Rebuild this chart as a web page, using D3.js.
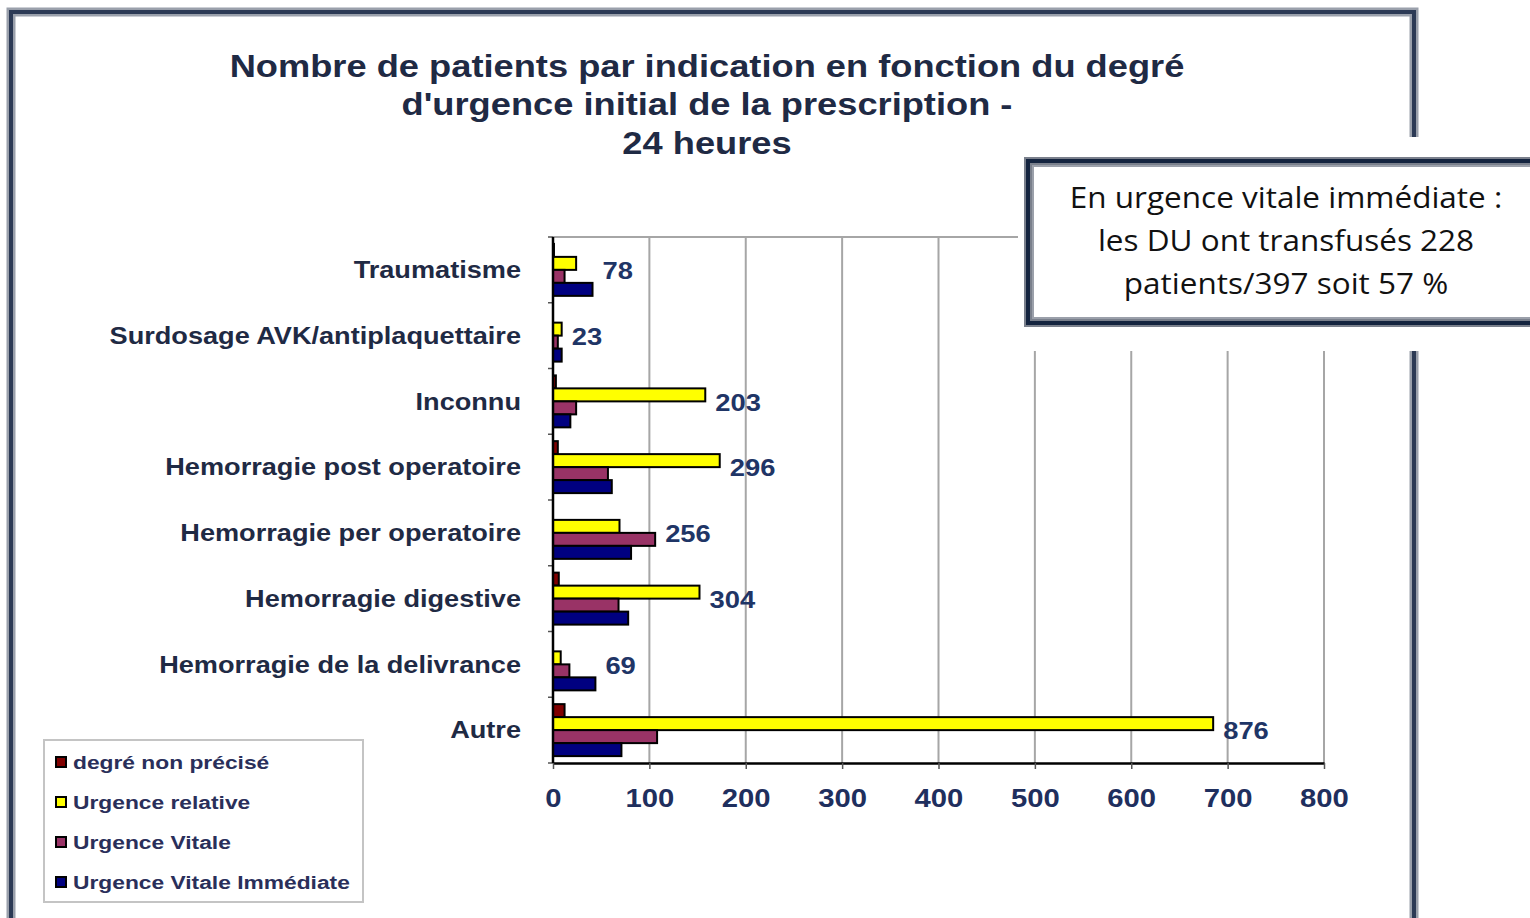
<!DOCTYPE html>
<html><head><meta charset="utf-8">
<script src="https://cdn.jsdelivr.net/npm/d3@7/dist/d3.min.js"></script>
<style>html,body{margin:0;padding:0;background:#fff;overflow:hidden}</style>
</head><body>
<svg id="c" width="1530" height="918"></svg>
<script>
const categories = ["Traumatisme","Surdosage AVK/antiplaquettaire","Inconnu","Hemorragie post operatoire","Hemorragie per operatoire","Hemorragie digestive","Hemorragie de la delivrance","Autre"];
const seriesNames = ["degré non précisé","Urgence relative","Urgence Vitale","Urgence Vitale Immédiate"];
const seriesColors = ["#800000","#ffff00","#993366","#000080"];
const nonPrecise = [1,0,3,5,0,6,0,12];
const relative   = [24,9,158,173,69,152,8,685];
const vitale     = [12,5,24,57,106,68,17,108];
const immediate  = [41,9,18,61,81,78,44,71];
const totals     = [78,23,203,296,256,304,69,876];
const xTicks     = [0,100,200,300,400,500,600,700,800];
const titleLines = ["Nombre de patients par indication en fonction du degré","d'urgence initial de la prescription -","24 heures"];
const noteLines  = ["En urgence vitale immédiate :","les DU ont transfusés 228","patients/397 soit 57 %"];

const FONT = "Liberation Sans, Arial, sans-serif";
const svg = d3.select("#c");
const seriesVals = [nonPrecise, relative, vitale, immediate];

// outer frame
svg.append("rect").attr("x",11).attr("y",12).attr("width",1403).attr("height",930)
  .attr("fill","none").attr("stroke","#9aa0ab").attr("stroke-width",9);
svg.append("rect").attr("x",11).attr("y",12).attr("width",1403).attr("height",930)
  .attr("fill","none").attr("stroke","#2c3a55").attr("stroke-width",4);

// title
const title = svg.append("text").attr("text-anchor","middle")
  .attr("transform","translate(707,0) scale(1.17,1)")
  .attr("font-family",FONT).attr("font-weight","bold")
  .attr("font-size",31).attr("fill","#1f2a44");
titleLines.forEach((t,i)=> title.append("tspan").attr("x",0).attr("y",77+i*38.5).text(t));

const m = {left:553, right:1324, top:237, bottom:763};
const x = d3.scaleLinear().domain([0,800]).range([m.left,m.right]);
const y0 = d3.scaleBand().domain(categories).range([m.top,m.bottom]).padding(0);
const y1 = d3.scaleBand().domain(d3.range(4)).range([0,y0.bandwidth()]).paddingInner(0).paddingOuter(0.53);

// grid
const g = svg.append("g");
g.selectAll("line.grid").data(xTicks.slice(1)).join("line")
  .attr("x1",d=>x(d)).attr("x2",d=>x(d)).attr("y1",m.top).attr("y2",m.bottom)
  .attr("stroke","#a6a6a6").attr("stroke-width",2);
g.append("line").attr("x1",m.left).attr("x2",m.right).attr("y1",m.top).attr("y2",m.top)
  .attr("stroke","#a6a6a6").attr("stroke-width",2);

// x axis
const xAxis = d3.axisBottom(x).tickValues(xTicks).tickSize(6).tickSizeOuter(0).tickPadding(0);
const xa = svg.append("g").attr("transform",`translate(0,${m.bottom})`).call(xAxis);
xa.select(".domain").attr("stroke","#000").attr("stroke-width",2.5);
xa.selectAll(".tick line").attr("stroke","#555").attr("stroke-width",1.5);
xa.selectAll(".tick text").attr("font-family",FONT)
  .attr("font-weight","bold").attr("font-size",25).attr("fill","#1f2f5e")
  .attr("y",0).attr("dy",0).attr("transform","translate(0,44) scale(1.17,1)");

// y axis ticks + labels
const yTickVals = d3.range(categories.length+1).map(i=>m.top+i*y0.step());
svg.append("g").selectAll("line").data(yTickVals).join("line")
  .attr("x1",m.left-5).attr("x2",m.left).attr("y1",d=>d).attr("y2",d=>d)
  .attr("stroke","#555").attr("stroke-width",1.5);
svg.append("g").selectAll("text").data(categories).join("text")
  .attr("text-anchor","end").attr("dy","0.36em")
  .attr("transform",d=>`translate(521,${y0(d)+y0.bandwidth()/2}) scale(1.18,1)`)
  .attr("font-family",FONT).attr("font-weight","bold").attr("font-size",23).attr("fill","#1f2a44")
  .text(d=>d);

// bars
const bars = svg.append("g");
categories.forEach((c,ci)=>{
  seriesVals.forEach((vals,si)=>{
    const v = vals[ci];
    if (v<=0) return;
    bars.append("rect")
      .attr("x",x(0)).attr("y",y0(c)+y1(si))
      .attr("width",x(v)-x(0)).attr("height",y1.bandwidth())
      .attr("fill",seriesColors[si]).attr("stroke","#000").attr("stroke-width",2);
  });
});
svg.append("line").attr("x1",m.left).attr("x2",m.left).attr("y1",m.top).attr("y2",m.bottom)
  .attr("stroke","#000").attr("stroke-width",2.5);

// value labels (right of longest bar, centred on category)
categories.forEach((c,ci)=>{
  const mx = d3.max(seriesVals, s=>s[ci]);
  svg.append("text")
    .attr("transform",`translate(${x(mx)+10},${y0(c)+y0.bandwidth()/2+1}) scale(1.19,1)`)
    .attr("dy","0.36em").attr("font-family",FONT)
    .attr("font-weight","bold").attr("font-size",23).attr("fill","#1f3566").text(totals[ci]);
});

// legend
const lg = svg.append("g");
lg.append("rect").attr("x",44).attr("y",740).attr("width",319).attr("height",162)
  .attr("fill","#fff").attr("stroke","#c4c4c4").attr("stroke-width",2);
seriesNames.forEach((n,i)=>{
  const yy = 762 + i*40;
  lg.append("rect").attr("x",56).attr("y",yy-5).attr("width",10).attr("height",10)
    .attr("fill",seriesColors[i]).attr("stroke","#000").attr("stroke-width",2);
  lg.append("text").attr("transform",`translate(73,${yy}) scale(1.2,1)`).attr("dy","0.36em")
    .attr("font-family",FONT).attr("font-weight","bold")
    .attr("font-size",19).attr("fill","#2a2f5a").text(n);
});

// annotation (white padding + double-border box)
svg.append("rect").attr("x",1018).attr("y",137).attr("width",520).attr("height",214).attr("fill","#fff");
svg.append("rect").attr("x",1028).attr("y",161).attr("width",520).attr("height",162)
  .attr("fill","#fff").attr("stroke","#7a808c").attr("stroke-width",8);
svg.append("rect").attr("x",1028).attr("y",161).attr("width",520).attr("height",162)
  .attr("fill","none").attr("stroke","#14243f").attr("stroke-width",4);
svg.append("rect").attr("x",1033).attr("y",166).attr("width",520).attr("height",152)
  .attr("fill","none").attr("stroke","#9ba0aa").attr("stroke-width",2);
const note = svg.append("text").attr("text-anchor","middle")
  .attr("transform","translate(1286,0) scale(1.05,1)")
  .attr("font-family","Open Sans, Lato, sans-serif").attr("font-size",30).attr("fill","#111");
noteLines.forEach((t,i)=> note.append("tspan").attr("x",0).attr("y",208+i*43).text(t));
</script>
</body></html>
